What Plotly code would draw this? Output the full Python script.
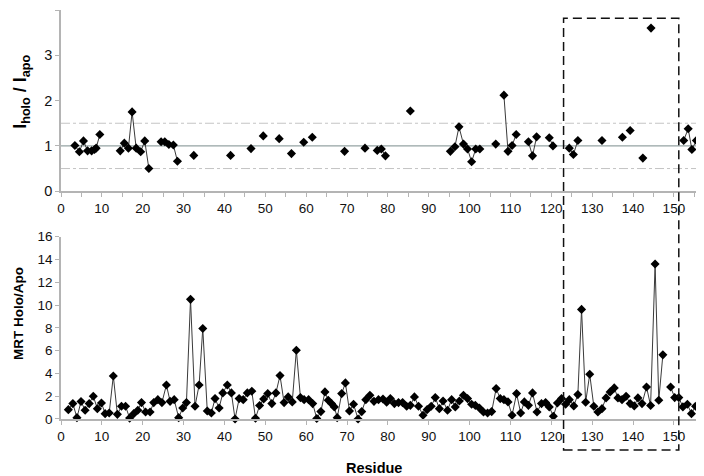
import plotly.graph_objects as go

# ---- data ----
top_res = [3.4, 4.5, 5.5, 6.5, 7.5, 8.2, 8.6, 9.5,
           14.5, 15.5, 16.5, 17.4, 18.4, 19.5, 20.5, 21.5,
           24.5, 25.4, 26.4, 27.5, 28.5,
           32.5, 41.5, 46.5, 49.5, 53.4, 56.4, 59.4, 61.5, 69.4, 74.4,
           77.4, 78.4, 79.4, 85.5,
           95.3, 96.4, 97.4, 98.5, 99.5, 100.5, 101.5, 102.5,
           106.4, 108.4, 109.4, 110.4, 111.4,
           114.4, 115.4, 116.4, 119.5, 120.4,
           124.4, 125.4, 126.5, 132.4, 137.4, 139.3, 142.4, 144.4,
           152.4, 153.5, 154.4, 155.5]
top_val = [1.01, 0.87, 1.11, 0.89, 0.89, 0.92, 0.95, 1.25,
           0.89, 1.06, 0.95, 1.75, 0.95, 0.87, 1.11, 0.50,
           1.09, 1.09, 1.03, 1.02, 0.66,
           0.79, 0.79, 0.94, 1.22, 1.16, 0.83, 1.08, 1.19, 0.88, 0.95,
           0.90, 0.93, 0.78, 1.77,
           0.88, 0.98, 1.42, 1.04, 0.93, 0.65, 0.93, 0.93,
           1.04, 2.12, 0.88, 1.01, 1.25,
           1.09, 0.78, 1.20, 1.18, 1.00,
           0.95, 0.81, 1.12, 1.12, 1.19, 1.34, 0.73, 3.60,
           1.12, 1.38, 0.92, 1.12]

bot_res = [1.8, 2.9, 3.9, 4.9, 5.9, 6.9, 7.9, 8.9, 9.9, 10.8,
           11.8, 12.8, 13.8, 14.8, 15.8, 16.8, 17.8, 18.8, 19.7, 20.7,
           21.8, 22.7, 23.7, 24.7, 25.8, 26.7, 27.7, 28.8, 29.8, 30.7,
           31.7, 32.8, 33.8, 34.7, 35.8, 36.8, 37.7, 38.7, 39.6, 40.7,
           41.7, 42.6, 43.6, 44.6, 45.6, 46.7, 47.6, 48.6, 49.6, 50.6,
           51.6, 52.6, 53.6, 54.6, 55.6, 56.6, 57.6, 58.6, 59.5, 60.6,
           61.6, 62.6, 63.6, 64.6, 65.4, 66.2, 66.9, 67.6, 68.7, 69.6,
           70.6, 71.6, 72.7, 73.6, 74.6, 75.6, 76.6, 77.7, 78.8, 79.7,
           80.6, 81.6, 82.6, 83.6, 84.6, 85.5, 86.5, 87.5, 88.6, 89.6,
           90.6, 91.6, 92.6, 93.5, 94.6, 95.6, 96.5, 97.5, 98.5, 99.5,
           100.5, 101.4, 102.4, 103.4, 104.4, 105.4, 106.5, 107.5, 108.4, 109.4,
           110.4, 111.5, 112.5, 113.4, 114.4, 115.4, 116.5, 117.6, 118.6, 119.5,
           120.5, 121.5, 122.5, 123.5, 124.4, 125.5, 126.5, 127.4, 128.4, 129.4,
           130.4, 131.4, 132.4, 133.4, 134.4, 135.4, 136.3, 137.3, 138.3, 139.3,
           140.3, 141.2, 142.2, 143.3, 144.3, 145.4, 146.3, 147.3, 149.2, 150.2,
           151.2, 152.2, 153.3, 154.3, 155.3]
bot_val = [0.82, 1.35, 0.12, 1.53, 0.77, 1.35, 2.00, 0.91, 1.41, 0.47,
           0.53, 3.78, 0.41, 1.12, 1.12, 0.08, 0.47, 0.77, 1.44, 0.62,
           0.62, 1.44, 1.70, 1.44, 2.99, 1.55, 1.70, 0.12, 0.97, 1.44,
           10.5, 1.12, 2.99, 7.95, 0.70, 0.53, 1.79, 0.97, 2.29, 2.99,
           2.29, 0.00, 1.79, 1.70, 2.29, 2.44, 0.06, 1.18, 1.76, 2.23,
           1.35, 2.29, 3.81, 1.44, 1.94, 1.50, 6.04, 1.88, 1.70, 1.70,
           1.35, 0.05, 0.65, 2.38, 1.64, 1.35, 1.06, 0.12, 2.23, 3.17,
           0.70, 1.29, 0.00, 0.65, 1.70, 2.08, 1.55, 1.70, 1.76, 1.47,
           1.79, 1.35, 1.44, 1.44, 1.12, 1.20, 1.94, 1.12, 0.33, 0.82,
           1.12, 1.88, 0.91, 1.58, 0.77, 1.70, 1.06, 1.58, 2.08, 1.79,
           1.29, 1.20, 0.97, 0.62, 0.53, 0.65, 2.67, 1.79, 1.70, 1.50,
           0.33, 2.23, 0.53, 1.50, 1.20, 2.29, 0.62, 1.35, 1.44, 1.06,
           0.24, 1.41, 1.79, 1.29, 1.70, 1.15, 2.14, 9.62, 1.47, 3.93,
           1.12, 0.62, 0.91, 1.85, 2.38, 2.73, 1.85, 1.70, 2.00, 1.35,
           1.15, 1.85, 1.35, 2.81, 1.18, 13.6, 1.64, 5.63, 2.81, 1.88,
           1.88, 1.06, 1.29, 0.47, 1.12]

x_ticks = [0, 10, 20, 30, 40, 50, 60, 70, 80, 90, 100, 110, 120, 130, 140, 150]
top_y_ticks = [0, 1, 2, 3, 4]
bot_y_ticks = [0, 2, 4, 6, 8, 10, 12, 14, 16]
ref_levels = [0.5, 1.0, 1.5]
box_res = [123.0, 151.2]


def with_gaps(xs, ys, max_step=1.5):
    ox, oy = [], []
    for i, (a, b) in enumerate(zip(xs, ys)):
        if i > 0 and a - xs[i - 1] > max_step:
            ox.append(None)
            oy.append(None)
        ox.append(a)
        oy.append(b)
    return ox, oy


FONT = "Liberation Sans, Arial, sans-serif"
AX = "#b4b4b4"

fig = go.Figure()
tx, ty = with_gaps(top_res, top_val)
bx, by = with_gaps(bot_res, bot_val)
marker = dict(symbol="diamond", size=7, color="#000000")
line = dict(color="#3a3a3a", width=1)
fig.add_trace(go.Scatter(x=tx, y=ty, mode="lines+markers", marker=marker,
                         line=line, connectgaps=False, cliponaxis=False,
                         xaxis="x", yaxis="y", showlegend=False))
fig.add_trace(go.Scatter(x=bx, y=by, mode="lines+markers", marker=marker,
                         line=line, connectgaps=False, cliponaxis=False,
                         xaxis="x2", yaxis="y2", showlegend=False))

xmax = 155.9
common_x = dict(range=[0, xmax], tickmode="array", tickvals=x_ticks,
                showline=True, linecolor=AX, linewidth=1.5, ticks="outside",
                ticklen=4, tickcolor=AX, showgrid=False, zeroline=False,
                automargin=False,
                tickfont=dict(family=FONT, size=13.5, color="#111"))
common_y = dict(showline=True, linecolor=AX, linewidth=1.5, ticks="outside",
                ticklen=4, tickcolor=AX, showgrid=False, zeroline=False,
                automargin=False, tickmode="array")
# page body has an 8px default margin: the figure is sized so that its
# plot area lands where the reference's does
fig.update_layout(
    width=696, height=468,
    margin=dict(l=53, r=6, t=2, b=57),
    paper_bgcolor="white", plot_bgcolor="white",
    xaxis=dict(domain=[0, 1], anchor="y",
               minor=dict(dtick=5, tick0=0, ticks="outside", ticklen=4,
                          tickcolor=AX),
               **common_x),
    yaxis=dict(domain=[0.557, 1], anchor="x", range=[0, 4],
               tickvals=top_y_ticks,
               tickfont=dict(family=FONT, size=14.5, color="#111"),
               **common_y),
    xaxis2=dict(domain=[0, 1], anchor="y2", **common_x),
    yaxis2=dict(domain=[0, 0.4457], anchor="x2", range=[0, 16],
                tickvals=bot_y_ticks,
                tickfont=dict(family=FONT, size=13.5, color="#111"),
                **common_y),
)

for lvl in ref_levels:
    solid = lvl == 1.0
    fig.add_shape(type="line", xref="x", yref="y", x0=0, x1=xmax, y0=lvl,
                  y1=lvl, layer="below",
                  line=dict(color="#95a3a3" if solid else "#c4c4c4",
                            width=1.2 if solid else 1,
                            dash="solid" if solid else "dashdot"))

fig.add_shape(type="rect", xref="x", yref="paper", x0=box_res[0],
              x1=box_res[1], y0=-0.0758, y1=0.980,
              line=dict(color="#111", width=1.5, dash="9px,5px"))

fig.add_annotation(text="<b>I<sub>holo</sub> / I<sub>apo</sub></b>",
                   xref="paper", yref="paper", x=0, y=0.80, xshift=-39,
                   xanchor="center", yanchor="middle",
                   textangle=-90, showarrow=False,
                   font=dict(family=FONT, size=18, color="#000"))
fig.add_annotation(text="<b>MRT Holo/Apo</b>", xref="paper", yref="paper",
                   x=0, y=0.257, xshift=-42, textangle=-90, showarrow=False,
                   xanchor="center", yanchor="middle",
                   font=dict(family=FONT, size=13.5, color="#000"))
fig.add_annotation(text="<b>Residue</b>", xref="paper", yref="paper",
                   x=(374 - 61) / 637, y=-0.1186, showarrow=False,
                   xanchor="center", yanchor="middle",
                   font=dict(family=FONT, size=14.5, color="#000"))

fig.write_html("out.html")
